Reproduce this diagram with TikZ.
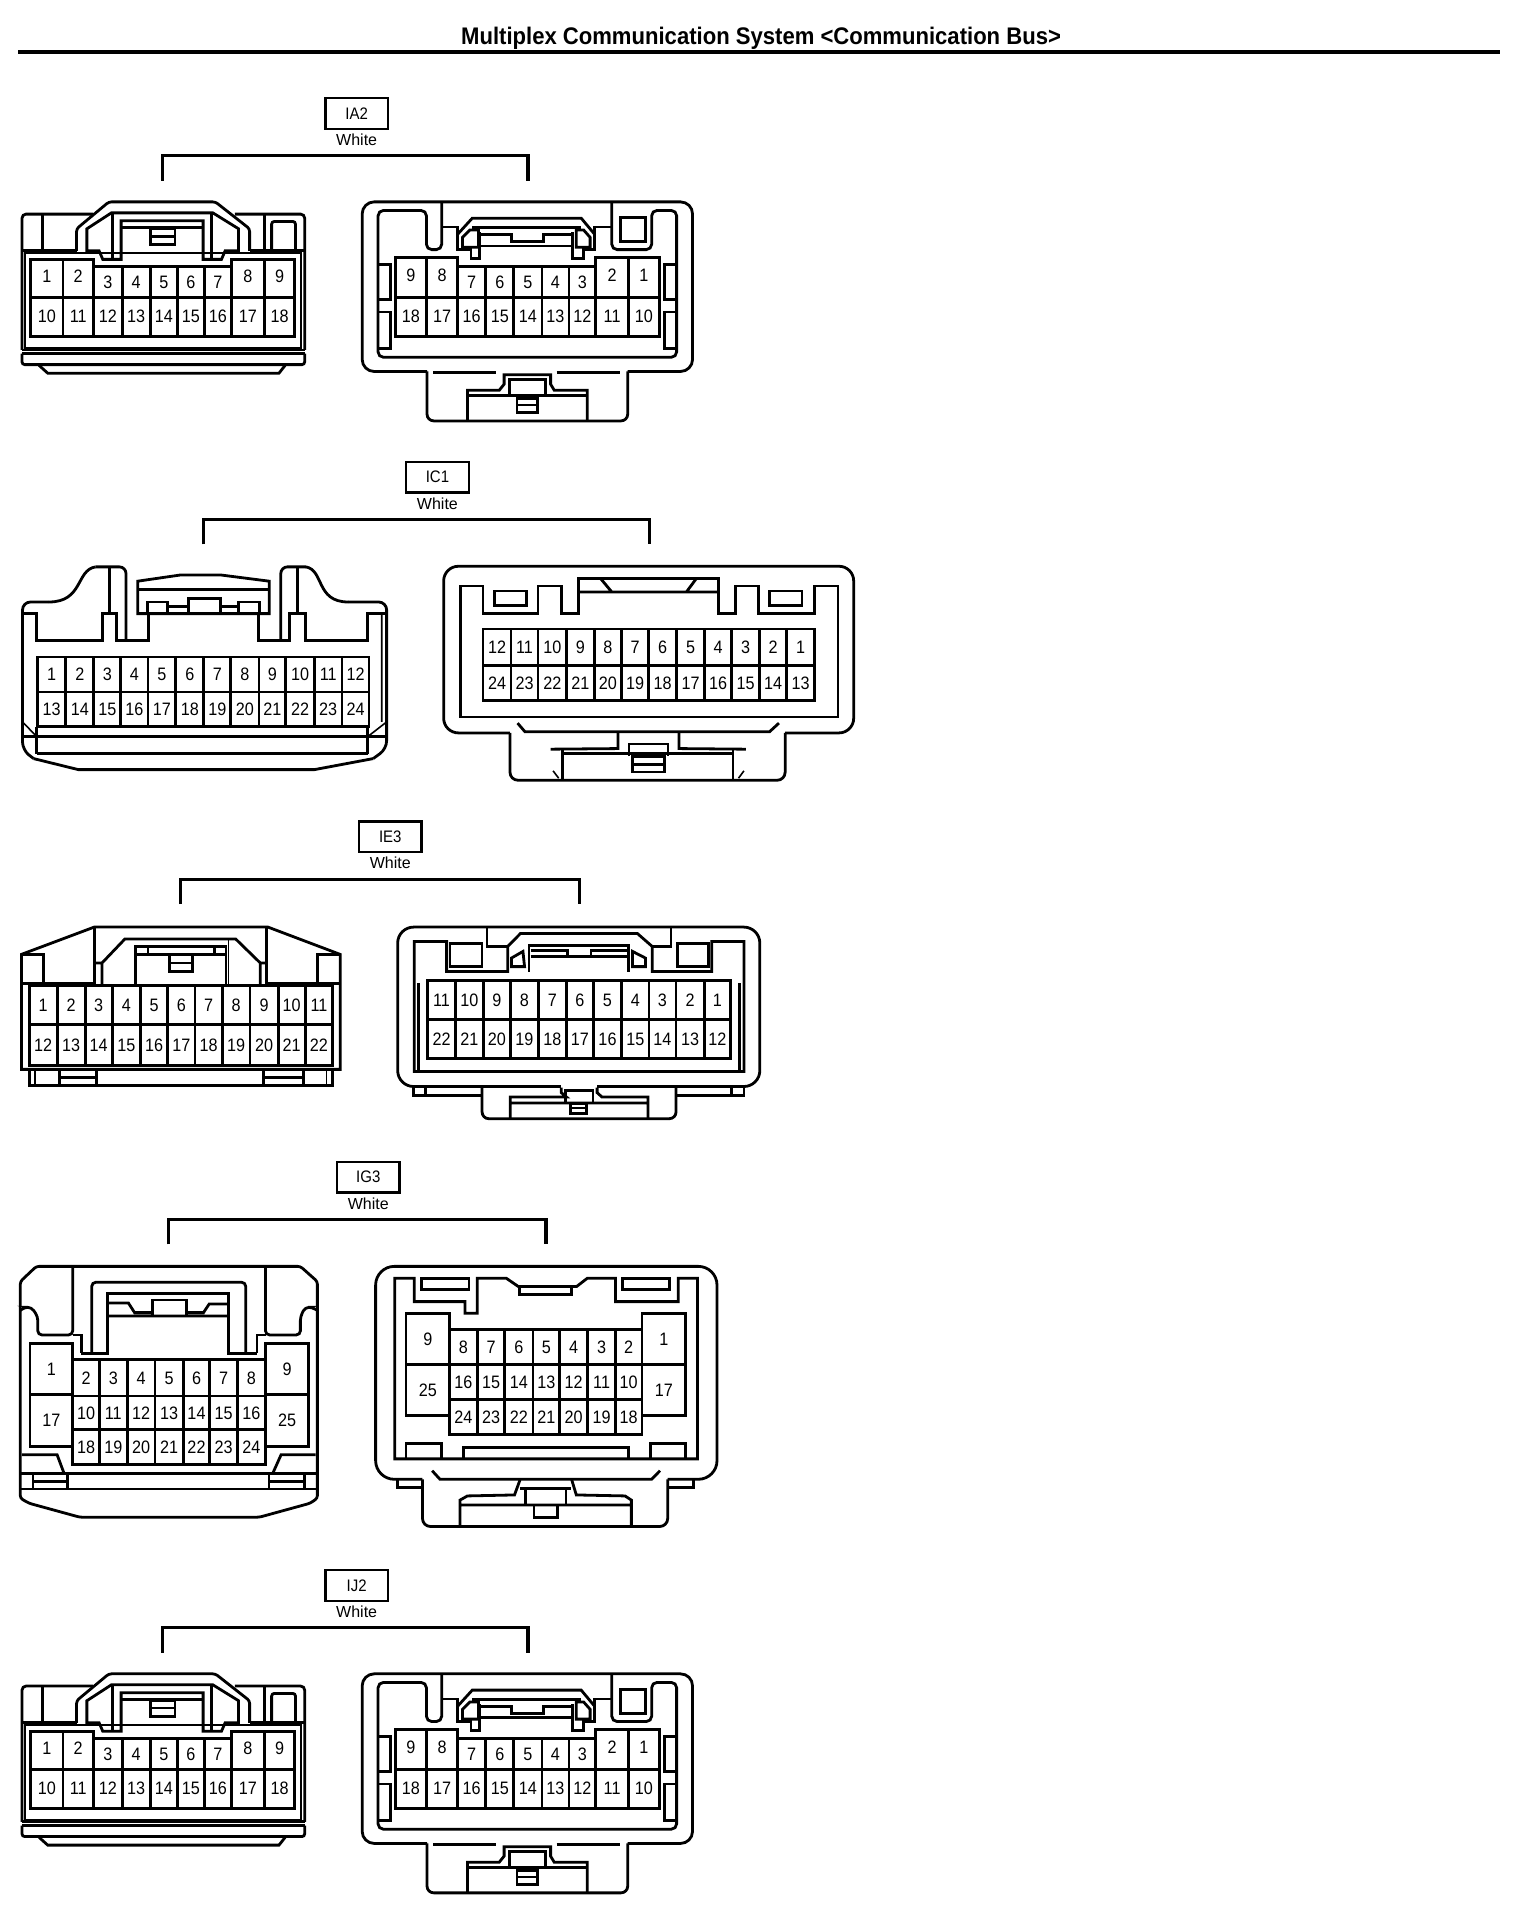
\documentclass[tikz,border=0pt]{standalone}
\usepackage{fontspec}
\setmainfont{Liberation Sans}
\newfontfamily\titlefont[FakeStretch=0.92]{Liberation Sans Bold}
\newfontfamily\pinfont[FakeStretch=0.9]{Liberation Sans}
\tikzset{
  ln/.style={draw=black,line width=2.1pt},
  thin ln/.style={draw=black,line width=1.2pt},
  pinl/.style={inner sep=0pt,font=\pinfont\fontsize{13.5}{14}\selectfont},
  tagbox/.style={draw=black,line width=1.8pt,minimum width=47pt,minimum height=23pt,inner sep=0pt,font=\pinfont\fontsize{12.5}{13}\selectfont},
  tagcol/.style={inner sep=0pt,font=\fontsize{12}{13}\selectfont},
  brk/.style={draw=black,line width=2.4pt}
}
\def\labshift{0}
\newcommand\pinrow[3]{\foreach \xa/\xb/\lab in {#3}{%
  \draw[ln] (\xa,#1) rectangle (\xb,#2);
  \node[pinl] (\cname-\lab) at ({(\xa+\xb)/2},{(#1+#2)/2+\labshift}) {\lab};}}
% name, text, box centre x, box centre y, bracket left, bracket right
\newcommand\tagset[6]{%
  \node[tagbox] (#1) at (#3,#4) {#2};
  \node[tagcol] (#1-col) at (#3,#4+21.5) {White};
  \coordinate (#1-l) at (#5,#4+55);
  \coordinate (#1-r) at (#6,#4+55);
  \coordinate (#1-t) at (#5,#4+34.5);
  \draw[brk] (#1-l) |- (#1-t) -| (#1-r);}
\newcommand\connA[1]{%
  % left plug
  \draw[ln,rounded corners=2pt] (62.6,205)--(62.6,187)--(89,165)--(176,165)--(204,187)--(204,205);
  \draw[ln,rounded corners=3pt] (76,175)--(18,175)--(18,286);
  \draw[ln,rounded corners=3pt] (192,175)--(249,175)--(249,286);
  \draw[ln] (18,205)--(62.6,205) (204,205)--(249,205);
  \draw[ln] (71,205)--(71,187)--(91,174)--(174,174)--(195,187)--(195,205)--(184,205)--(181,212)--(166,212)--(166,180.5)--(99,180.5)--(99,212)--(84,212)--(81,205)--cycle;
  \draw[ln] (92,174)--(92,212) (173,174)--(173,212) (99,186)--(166,186);
  \draw[ln] (123,187) rectangle (143,200) (123,193)--(143,193);
  \draw[ln] (35,175)--(35,205) (216,175)--(216,205);
  \draw[ln,rounded corners=2pt] (222,205)--(222,181)--(241.5,181)--(241.5,205);
  \draw[thin ln] (20.5,207) rectangle (246,284.5);
  \draw[ln] (18,286)--(249,286) (18,289)--(249,289);
  \draw[ln,rounded corners=2pt] (18,289)--(18,298)--(249,298)--(249,289);
  \draw[ln] (32,298.7)--(39,305)--(228,305)--(233,298.7);
  \def\cname{#1l}
  \def\labshift{-2}
  \pinrow{212}{243}{25/51.5/1,51.5/76.4/2,189/216/8,216/241/9}
  \def\labshift{0}
  \pinrow{218}{243}{76.4/99.8/3,99.8/122.8/4,122.8/145/5,145/167/6,167/189/7}
  \def\labshift{-0.7}
  \pinrow{243}{275}{25/51.5/10,51.5/76.4/11,76.4/99.8/12,99.8/122.8/13,122.8/145/14,145/167/15,167/189/16,189/216/17,216/241/18}
  % right socket
  \draw[ln,rounded corners=9pt] (349,303.6)--(296,303.6)--(296,165)--(566,165)--(566,303.6)--(513,303.6);
  \draw[ln,rounded corners=5pt] (349,303.6)--(349,344)--(513,344)--(513,303.6);
  \draw[ln,rounded corners=4pt] (361,165)--(361,204)--(348.5,204)--(348.5,172)--(309,172)--(309,292)--(553,292)--(553,172)--(532.6,172)--(532.6,204)--(500,204)--(500,165);
  \draw[ln] (361,185.5)--(374,185.5)--(374,204)--(385,204)--(385,211)--(392,211)--(392,190);
  \draw[ln] (500,185.5)--(486,185.5)--(486,204)--(477,204)--(477,211)--(468,211)--(468,190);
  \draw[ln] (374,191.5)--(386,178.3)--(475,178.3)--(486,191.5);
  \draw[ln] (386,186)--(475,186);
  \draw[ln] (378,202)--(378,194)--(384,188)--(391,188)--(391,202)--cycle;
  \draw[ln] (471,188)--(477,188)--(482.3,194)--(482.3,202)--(471,202)--cycle;
  \draw[ln] (393,191.5)--(418,191.5)--(418,197.5)--(444,197.5)--(444,191.5)--(469,191.5);
  \draw[ln] (393,201)--(469,201);
  \draw[ln] (507,178) rectangle (527.5,197.5);
  \draw[ln] (309,216)--(319,216)--(319,245)--(309,245) (309,255)--(319,255)--(319,285)--(309,285);
  \draw[ln] (553,216)--(543,216)--(543,245)--(553,245) (553,255)--(543,255)--(543,285)--(553,285);
  \draw[ln] (354,304.4)--(405,304.4) (455,304.4)--(507,304.4);
  \draw[ln] (382,344)--(382,319)--(408,319)--(412,314)--(412,306.3)--(450,306.3)--(450,314)--(453,319)--(480,319)--(480,344);
  \draw[ln] (382,323)--(480,323);
  \draw[ln] (416.6,323)--(416.6,310.4)--(446,310.4)--(446,323);
  \draw[ln] (422.5,325.5) rectangle (439.6,337) (422.5,331)--(439.6,331);
  \def\cname{#1r}
  \def\labshift{-2}
  \pinrow{210.6}{243.4}{323/348.5/9,348.5/374/8,487/513.6/2,513.6/539/1}
  \def\labshift{0}
  \pinrow{218}{243.4}{374/397/7,397/420/6,420/443/5,443/465/4,465/487/3}
  \def\labshift{-0.7}
  \pinrow{243.4}{275}{323/348.5/18,348.5/374/17,374/397/16,397/420/15,420/443/14,443/465/13,465/487/12,487/513.6/11,513.6/539/10}
  \def\labshift{0}
}
\begin{document}
\begin{tikzpicture}[x=0.9179pt,y=-0.9179pt]
\useasboundingbox (0,0) rectangle (1255,1564.3);
\fill[white] (0,0) rectangle (1255,1564.3);
\node[inner sep=0pt,font=\titlefont\fontsize{18}{20}\selectfont] (title) at (622,31) {Multiplex Communication System <Communication Bus>};
\coordinate (rule-l) at (15,42.5);
\coordinate (rule-r) at (1226,42.5);
\draw[draw=black,line width=3pt] (rule-l)--(rule-r);

%% IA2
\tagset{ia2}{IA2}{291.5}{92.8}{132.7}{431.5}
\connA{ia2}

%% IC1
\tagset{ic1}{IC1}{357.5}{390}{166.5}{531}
\begin{scope}
\draw[ln,rounded corners=5pt] (103,523)--(103,463.3)--(78,463.3);
\draw[ln] (78,463.3) .. controls (62,466) and (68,492) .. (40,492);
\draw[ln,rounded corners=6pt] (40,492)--(18.4,492)--(18.4,613)--(27.5,620);
\draw[ln] (27.5,620)--(64,629)--(257,629)--(305,620);
\draw[ln,rounded corners=6pt] (305,620)--(316,612)--(316,492)--(284.6,492);
\draw[ln] (284.6,492) .. controls (258,492) and (265,466) .. (250,463.3);
\draw[ln,rounded corners=5pt] (250,463.3)--(229.5,463.3)--(229.5,523);
\draw[ln] (89.5,463.3)--(89.5,501.5) (243,463.3)--(243,501.5);
\draw[ln] (18.4,501.5)--(30,501.5)--(30,523.3)--(83.5,523.3)--(83.5,501.5)--(95.5,501.5)--(95.5,523.3)--(121.6,523.3)--(121.6,501.5);
\draw[ln] (316,501.5)--(300.6,501.5)--(300.6,523.3)--(250,523.3)--(250,501.5)--(236.4,501.5)--(236.4,523.3)--(211,523.3)--(211,501.5);
\draw[ln] (112.5,501.5)--(112.5,475)--(147,470)--(181,470)--(220,475)--(220,501.5)--cycle;
\draw[ln] (112.5,482)--(220,482);
\draw[ln] (120.7,501.5)--(120.7,492)--(136.8,492)--(136.8,501.5);
\draw[ln] (195,501.5)--(195,492)--(212,492)--(212,501.5);
\draw[ln] (154,501.5)--(154,489)--(180,489)--(180,501.5);
\draw[ln] (136.8,496)--(154,496) (180,496)--(195,496);
\draw[ln] (18.4,602)--(316,602) (30,594)--(30,616) (300.6,594)--(300.6,616) (30,616)--(300.6,616);
\draw[thin ln] (18.4,590)--(30,602) (316,590)--(300.6,602) (312,501.5)--(312,590);
\def\cname{ic1l}
\pinrow{537}{565.5}{30.7/53.7/1,53.7/76.7/2,76.7/98.7/3,98.7/121/4,121/143.7/5,143.7/166.6/6,166.6/188.6/7,188.6/211.6/8,211.6/233.6/9,233.6/257/10,257/279.5/11,279.5/301.6/12}
\pinrow{565.5}{594}{30.7/53.7/13,53.7/76.7/14,76.7/98.7/15,98.7/121/16,121/143.7/17,143.7/166.6/18,166.6/188.6/19,188.6/211.6/20,211.6/233.6/21,233.6/257/22,257/279.5/23,279.5/301.6/24}
% right
\draw[ln,rounded corners=11pt] (416.8,599)--(362.6,599)--(362.6,462.8)--(697.7,462.8)--(697.7,599)--(641.7,599);
\draw[ln,rounded corners=6pt] (416.8,599)--(416.8,637.7)--(641.7,637.7)--(641.7,599);
\draw[ln] (394.7,479)--(376.4,479)--(376.4,586)--(684.8,586)--(684.8,479)--(665.5,479)--(665.5,501.5)--(619.6,501.5)--(619.6,479)--(601.3,479)--(601.3,501.5)--(587.5,501.5)--(587.5,473)--(472.8,473)--(472.8,501.5)--(459,501.5)--(459,479)--(439.7,479)--(439.7,501.5)--(394.7,501.5)--cycle;
\draw[ln] (472.8,483.8)--(587.5,483.8) (491,473)--(500,483.8) (569,473)--(561,483.8);
\draw[ln] (404,483) rectangle (430.5,495) (629,483) rectangle (655.5,495);
\draw[ln] (423,591)--(429,598)--(629,598)--(636.6,591);
\draw[ln] (505,599)--(505,611.8)--(450,612.3) (555,599)--(555,611.8)--(609.5,612.3);
\draw[ln] (514,618)--(514,608)--(546,608)--(546,618);
\draw[ln] (517,618.6) rectangle (543,631) (517,624.6)--(543,624.6);
\draw[ln] (460,616)--(599,616) (460,612)--(460,637.7) (599,612)--(599,637.7);
\draw[thin ln] (452,630)--(456.6,636) (608,630)--(603.6,636);
\def\cname{ic1r}
\pinrow{514}{543.7}{394.7/417.7/12,417.7/439.7/11,439.7/463/10,463/485.6/9,485.6/508/8,508/530/7,530/553/6,553/576/5,576/598/4,598/620.6/3,620.6/643/2,643/665.5/1}
\pinrow{543.7}{572.8}{394.7/417.7/24,417.7/439.7/23,439.7/463/22,463/485.6/21,485.6/508/20,508/530/19,530/553/18,553/576/17,576/598/16,598/620.6/15,620.6/643/14,643/665.5/13}
\end{scope}

%% IE3
\tagset{ie3}{IE3}{319}{684}{147.6}{473.3}
\begin{scope}
\draw[ln] (17.5,874)--(17.5,780)--(77,757.7)--(219,757.7)--(278,780)--(278,874)--cycle;
\draw[ln] (17.5,780.3)--(35.5,780.3)--(35.5,803.5) (17.5,803.5)--(77,803.5) (77,757.7)--(77,805);
\draw[ln] (278,780.3)--(259.4,780.3)--(259.4,803.5) (278,803.5)--(217.7,803.5) (217.7,757.7)--(217.7,805);
\draw[ln] (77,787)--(83.4,787)--(102,767.5)--(192.7,767.5)--(212.7,787)--(217.7,787) (83.4,787)--(83.4,805) (212.7,787)--(212.7,805);
\draw[ln] (110.5,805)--(110.5,773.5)--(184.7,773.5)--(184.7,805);
\draw[thin ln] (186.8,768)--(186.8,804);
\draw[ln] (110.5,780)--(184.7,780) (121,773.5)--(121,780) (175,773.5)--(175,780);
\draw[ln] (138.4,780) rectangle (157.6,794) (138.4,787)--(157.6,787);
\def\cname{ie3l}
\pinrow{805.4}{837.5}{23.8/46.7/1,46.7/69.6/2,69.6/91.7/3,91.7/114.7/4,114.7/137.2/5,137.2/159.3/6,159.3/181.8/7,181.8/204.3/8,204.3/227.3/9,227.3/249.4/10,249.4/271.9/11}
\pinrow{837.5}{870.8}{23.8/46.7/12,46.7/69.6/13,69.6/91.7/14,91.7/114.7/15,114.7/137.2/16,137.2/159.3/17,159.3/181.8/18,181.8/204.3/19,204.3/227.3/20,227.3/249.4/21,249.4/271.9/22}
\draw[ln] (23.8,874)--(23.8,887)--(271.9,887)--(271.9,874);
\draw[thin ln] (28.4,874)--(28.4,887) (267,874)--(267,887);
\draw[ln] (48.8,874)--(48.8,887) (79,874)--(79,887) (48.8,880.3)--(79,880.3) (215.6,874)--(215.6,887) (248,874)--(248,887) (215.6,880.3)--(248,880.3);
% right
\draw[ln,rounded corners=12pt] (394,888)--(325,888)--(325,757.7)--(621,757.7)--(621,888)--(552.5,888);
\draw[ln] (337.8,888)--(337.8,895.5)--(394,895.5) (348,888)--(348,895.5) (552.5,895.5)--(608,895.5)--(608,888) (598,888)--(598,895.5);
\draw[ln] (394,888)--(458.7,888) (488,888)--(552.5,888);
\draw[ln,rounded corners=5pt] (394,888)--(394,914.3)--(552.5,914.3)--(552.5,888);
\draw[ln] (365,769.4)--(338.6,769.4)--(338.6,875.7)--(608,875.7)--(608,769.4)--(581.7,769.4)--(581.7,794)--(533,794)--(533,773.5)--(521,763)--(425.3,763)--(415,773.5)--(415,794)--(365,794)--cycle;
\draw[ln] (398,757.7)--(398,773.5)--(415,773.5) (548.4,757.7)--(548.4,773.5)--(533,773.5);
\draw[ln] (367.8,771.3) rectangle (394,790) (553.4,771.3) rectangle (578.8,790);
\draw[ln] (432.4,794)--(432.4,773)--(513.7,773)--(513.7,794);
\draw[ln] (433.7,776.8)--(463.7,776.8)--(463.7,782) (483,782)--(483,776.8)--(513.7,776.8) (433.7,782)--(513.7,782);
\draw[ln] (418,790)--(418,783)--(427.4,777.6)--(428.7,790)--cycle;
\draw[ln] (517,777.6)--(527.5,783)--(527.5,790)--(517,790)--cycle;
\draw[ln] (342,803.5)--(342,875.7) (604.6,803.5)--(604.6,875.7);
\draw[ln] (458.7,889)--(458.7,893)--(463,896.6)--(417,896.6)--(417,914) (417,901.5)--(529.6,901.5) (529.6,914)--(529.6,896.6)--(492,896.6)--(488,893)--(488,889);
\draw[ln] (462,901.5)--(462,891)--(484.6,891)--(484.6,901.5);
\draw[ln] (466,902) rectangle (479.6,910) (466,905.6)--(479.6,905.6);
\def\cname{ie3r}
\pinrow{801.6}{833.4}{349.4/372.4/11,372.4/395/10,395/417/9,417/440/8,440/463/7,463/485/6,485/508/5,508/530.4/4,530.4/552.5/3,552.5/575.5/2,575.5/597/1}
\pinrow{833.4}{865.3}{349.4/372.4/22,372.4/395/21,395/417/20,417/440/19,440/463/18,463/485/17,485/508/16,508/530.4/15,530.4/552.5/14,552.5/575.5/13,575.5/597/12}
\end{scope}

%% IG3
\tagset{ig3}{IG3}{301}{962}{137.8}{446.3}
\begin{scope}
\draw[ln,rounded corners=2pt] (16.6,1047.4)--(29.7,1035)--(245.5,1035)--(259.4,1047.4)--(259.4,1224.5)--(253.4,1228.6)--(211.9,1240)--(65.3,1240)--(23.8,1228.6)--(16.6,1224.5)--cycle;
\draw[ln,rounded corners=3pt] (59.4,1036)--(59.4,1091)--(30.9,1091)--(30.9,1076)--(25.7,1068.4)--(19.8,1068.4)--(16.6,1071);
\draw[ln,rounded corners=3pt] (217,1036)--(217,1091)--(245.5,1091)--(245.5,1076)--(249.5,1068.4)--(255,1068.4)--(259.4,1071);
\draw[ln] (59.4,1091)--(66.5,1091)--(66.5,1106) (217,1091)--(210,1091)--(210,1106);
\draw[ln,rounded corners=3pt] (75,1106)--(75,1048)--(200.8,1048)--(200.8,1106);
\draw[ln] (66.5,1106)--(88,1106)--(88,1057)--(187,1057)--(187,1106)--(210,1106);
\draw[ln] (88,1065)--(105,1065)--(110,1072.8)--(124.7,1072.8) (152.5,1072.8)--(166.3,1072.8)--(171,1065.7)--(187,1065.7) (88,1075.5)--(187,1075.5);
\draw[ln] (124.7,1075.5)--(124.7,1062.4)--(152.5,1062.4)--(152.5,1075.5);
\def\cname{ig3l}
\pinrow{1097.8}{1140}{24.5/59.4/1,217/252.3/9}
\pinrow{1140}{1182.3}{24.5/59.4/17,217/252.3/25}
\pinrow{1111.4}{1140.9}{59.4/81.2/2,81.2/104/3,104/126.7/4,126.7/149.7/5,149.7/171.5/6,171.5/194/7,194/217/8}
\pinrow{1140.9}{1168.6}{59.4/81.2/10,81.2/104/11,104/126.7/12,126.7/149.7/13,149.7/171.5/14,171.5/194/15,194/217/16}
\pinrow{1168.6}{1197}{59.4/81.2/18,81.2/104/19,104/126.7/20,126.7/149.7/21,149.7/171.5/22,171.5/194/23,194/217/24}
\draw[ln] (17.8,1189)--(46.7,1189)--(52.3,1204) (258,1189)--(229.7,1189)--(223,1204);
\draw[ln] (16.6,1204)--(259.4,1204) (16.6,1217)--(259.4,1217);
\draw[ln] (27,1204)--(27,1217) (55.4,1204)--(55.4,1217) (27,1210.9)--(55.4,1210.9) (219.8,1204)--(219.8,1217) (248.7,1204)--(248.7,1217) (219.8,1210.9)--(248.7,1210.9);
% right
\draw[ln,rounded corners=14pt] (345.3,1209)--(307,1209)--(307,1035)--(586,1035)--(586,1209)--(545.7,1209);
\draw[ln,rounded corners=6pt] (345.3,1209)--(345.3,1247.6)--(545.7,1247.6)--(545.7,1209);
\draw[ln] (324.7,1209)--(324.7,1215.5)--(345.3,1215.5) (545.7,1215.5)--(567,1215.5)--(567,1209);
\draw[ln] (338.6,1044.7)--(322.7,1044.7)--(322.7,1192.3)--(570,1192.3)--(570,1044.7)--(554.4,1044.7)--(554.4,1063.8)--(503,1063.8)--(503,1044.7)--(480,1044.7)--(471.2,1051.5)--(423.7,1051.5)--(413.8,1044.7)--(390,1044.7)--(390,1073.3)--(380,1073.3)--(380,1063.8)--(338.6,1063.8)--cycle;
\draw[ln] (344.5,1044.7) rectangle (383.3,1053.7) (508.9,1044.7) rectangle (547.3,1053.7);
\draw[ln] (424.5,1051.5)--(424.5,1057.8)--(467.3,1057.8)--(467.3,1051.5);
\def\cname{ig3r}
\pinrow{1073.3}{1115.5}{331.8/367.5/9,524.7/560.3/1}
\pinrow{1115.5}{1157}{331.8/367.5/25,524.7/560.3/17}
\pinrow{1086.4}{1115.5}{367.5/390/8,390/412.6/7,412.6/435.6/6,435.6/457.4/5,457.4/480.4/4,480.4/503/3,503/524.7/2}
\pinrow{1115.5}{1144}{367.5/390/16,390/412.6/15,412.6/435.6/14,435.6/457.4/13,457.4/480.4/12,480.4/503/11,503/524.7/10}
\pinrow{1144}{1172.7}{367.5/390/24,390/412.6/23,412.6/435.6/22,435.6/457.4/21,457.4/480.4/20,480.4/503/19,503/524.7/18}
\draw[ln] (331.8,1192.3)--(331.8,1179.5)--(361,1179.5)--(361,1192.3) (531.4,1192.3)--(531.4,1179.5)--(560.3,1179.5)--(560.3,1192.3) (379,1192.3)--(379,1182.8)--(513.6,1182.8)--(513.6,1192.3);
\draw[ln] (353.2,1202)--(359.6,1209)--(532.6,1209)--(539.4,1202);
\draw[ln] (425,1209.5)--(420.5,1221.8)--(382,1222.6)--(376,1226)--(376,1247) (376,1230)--(516,1230) (516,1247)--(516,1226)--(510.8,1222.6)--(471,1221.8)--(467.3,1209.5);
\draw[ln] (429.7,1230)--(429.7,1216.3) (425,1216.3)--(467,1216.3) (462.5,1216.3)--(462.5,1230);
\draw[ln] (436.4,1230) rectangle (455.4,1240);
\end{scope}

%% IJ2
\tagset{ij2}{IJ2}{291.5}{1295.8}{132.7}{431.5}
\begin{scope}[shift={(0,1203)}]
\connA{ij2}
\end{scope}
\end{tikzpicture}
\end{document}
